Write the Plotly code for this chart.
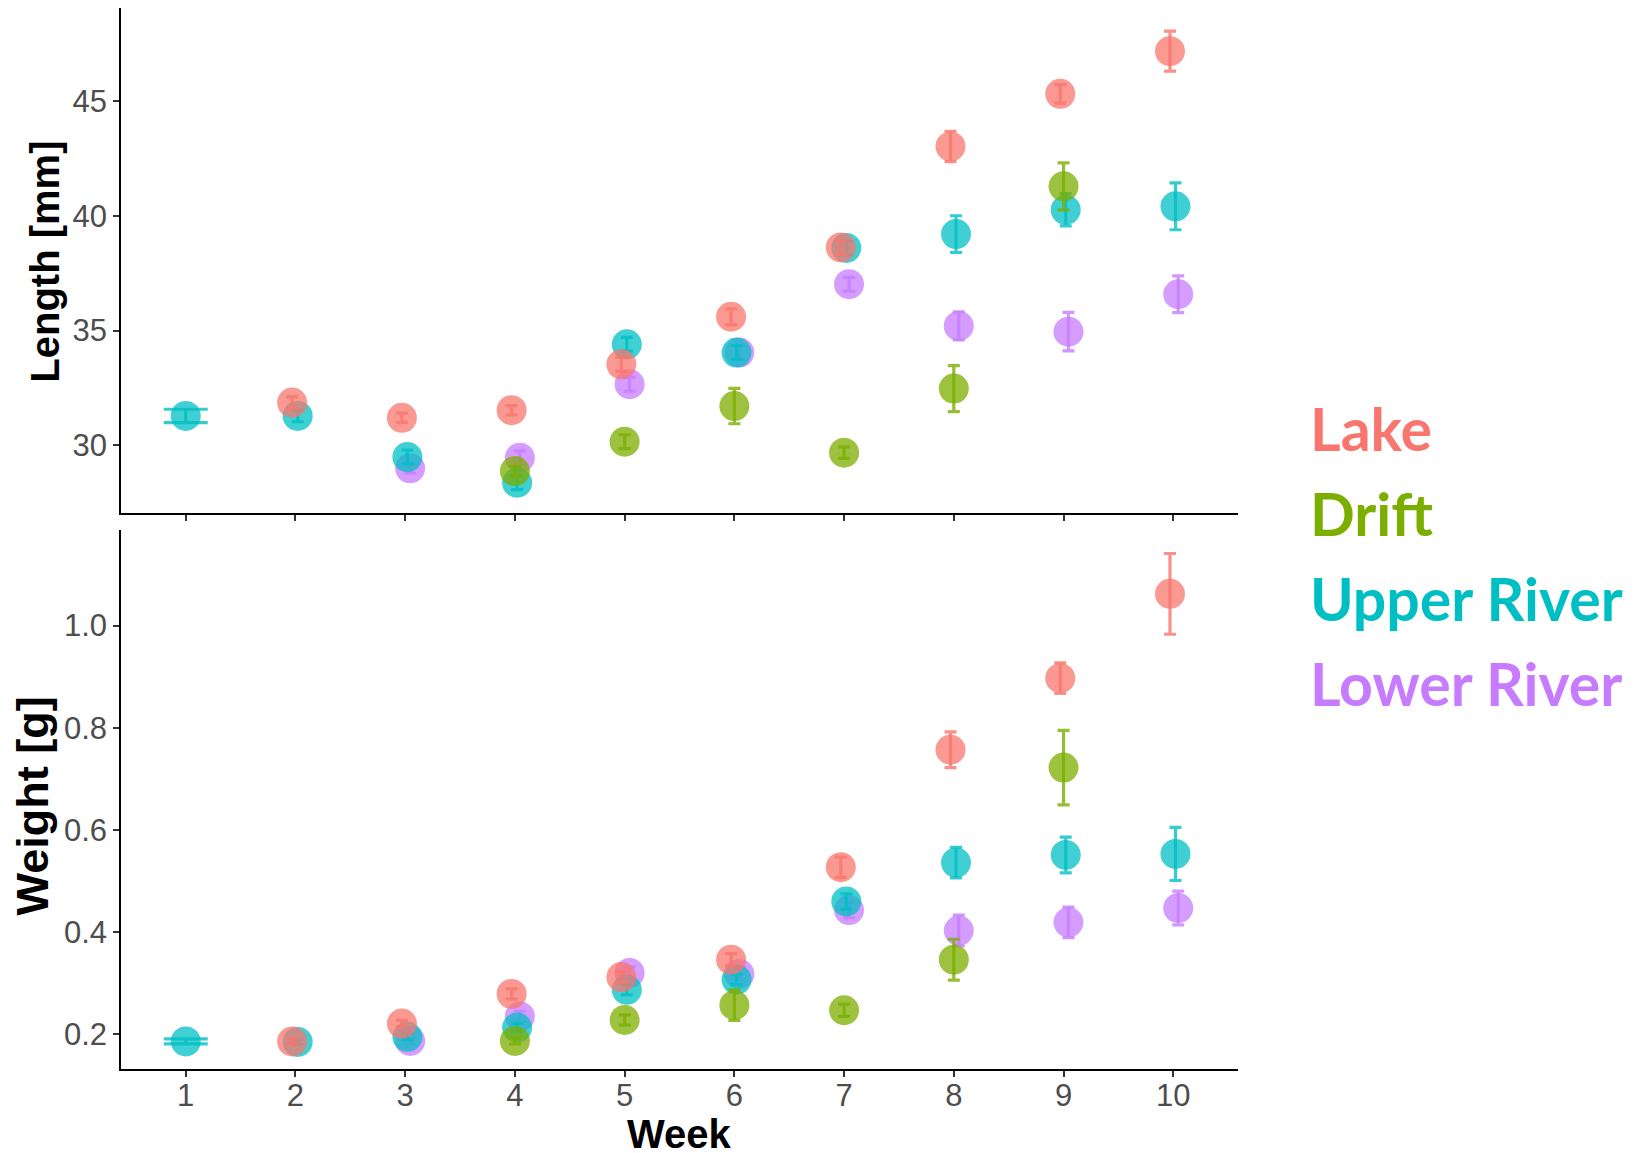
import numpy as np
import plotly.graph_objects as go

# ---------------- data ----------------
weeks = [1, 2, 3, 4, 5, 6, 7, 8, 9, 10]
groups = ["Lake", "Drift", "Upper River", "Lower River"]

length_lake = [None, 31.86, 31.20, 31.53, 33.53, 35.60, 38.62, 43.02, 45.31, 47.17]
length_lake_err = [None, 0.25, 0.20, 0.20, 0.30, 0.35, 0.30, 0.66, 0.40, 0.87]
length_drift = [None, None, None, 28.88, 30.16, 31.71, 29.68, 32.47, 41.28, None]
length_drift_err = [None, None, None, 0.20, 0.30, 0.77, 0.25, 1.00, 1.02, None]
length_upper = [31.28, 31.28, 29.49, 28.37, 34.40, 34.04, 38.60, 39.20, 40.26, 40.41]
length_upper_err = [0.29, 0.25, 0.30, 0.30, 0.30, 0.30, 0.30, 0.80, 0.70, 1.02]
length_lower = [None, None, 29.00, 29.46, 32.66, 34.04, 37.02, 35.20, 34.95, 36.58]
length_lower_err = [None, None, 0.20, 0.30, 0.30, 0.30, 0.30, 0.61, 0.84, 0.80]

weight_lake = [None, 0.186, 0.221, 0.279, 0.312, 0.346, 0.527, 0.757, 0.897, 1.062]
weight_lake_err = [None, 0.005, 0.006, 0.010, 0.010, 0.012, 0.020, 0.035, 0.030, 0.079]
weight_drift = [None, None, None, 0.187, 0.228, 0.257, 0.247, 0.346, 0.722, None]
weight_drift_err = [None, None, None, 0.006, 0.010, 0.030, 0.012, 0.040, 0.073, None]
weight_upper = [0.186, 0.185, 0.195, 0.213, 0.287, 0.307, 0.460, 0.536, 0.551, 0.553]
weight_upper_err = [0.005, 0.005, 0.006, 0.008, 0.010, 0.010, 0.015, 0.030, 0.035, 0.052]
weight_lower = [None, None, 0.187, 0.235, 0.320, 0.318, 0.443, 0.403, 0.419, 0.447]
weight_lower_err = [None, None, 0.006, 0.010, 0.012, 0.012, 0.015, 0.030, 0.030, 0.033]

# ---------------- style ----------------
colors = {"Lake": (248, 118, 109), "Drift": (124, 174, 0),
          "Upper River": (0, 191, 196), "Lower River": (199, 124, 255)}
dodge = {"Lake": -0.03, "Drift": 0.0, "Upper River": 0.02, "Lower River": 0.045}

length_data = {"Lake": (length_lake, length_lake_err), "Drift": (length_drift, length_drift_err),
               "Upper River": (length_upper, length_upper_err), "Lower River": (length_lower, length_lower_err)}
weight_data = {"Lake": (weight_lake, weight_lake_err), "Drift": (weight_drift, weight_drift_err),
               "Upper River": (weight_upper, weight_upper_err), "Lower River": (weight_lower, weight_lower_err)}

fig = go.Figure()
draw_order = ["Lower River", "Upper River", "Drift", "Lake"]


def add_group(g, vals, errs, xa, ya, table):
    r, gg, b = colors[g]
    wk = np.array(weeks, dtype=float)
    v = np.array([np.nan if a is None else a for a in vals], dtype=float)
    e = np.array([np.nan if a is None else a for a in errs], dtype=float)
    present = ~np.isnan(v)
    # a week with only one group is not dodged and gets a wide cap
    counts = {}
    for gname, (vv, _) in table.items():
        for i, a in enumerate(vv):
            if a is not None:
                counts[i] = counts.get(i, 0) + 1
    single = np.array([counts.get(i, 0) == 1 for i in range(len(weeks))])
    for mask, w, off in [(present & ~single, 6, dodge[g]), (present & single, 22, 0.0)]:
        if not mask.any():
            continue
        fig.add_trace(go.Scatter(
            x=wk[mask] + off, y=v[mask], mode="markers", xaxis=xa, yaxis=ya,
            marker=dict(size=30, color=f"rgb({r},{gg},{b})", opacity=0.75, line=dict(width=0)),
            error_y=dict(type="data", array=e[mask], visible=True, color=f"rgba({r},{gg},{b},0.8)",
                         thickness=3.2, width=w),
            showlegend=False, name=g, hoverinfo="skip"))


for g in draw_order:
    add_group(g, *length_data[g], "x2", "y2", length_data)
    add_group(g, *weight_data[g], "x", "y", weight_data)

tickfont = dict(family="Liberation Sans, Arial, sans-serif", size=31, color="#4D4D4D")


def tfont(size):
    return dict(family="Liberation Sans, Arial, sans-serif", size=size, color="black", weight="bold")


axis_common = dict(showline=True, linecolor="black", linewidth=1.5, ticks="outside", ticklen=6,
                   tickwidth=1.5, tickcolor="#333333", showgrid=False, zeroline=False,
                   tickfont=tickfont, automargin=False)

# page body adds an 8px offset; figure is sized so the plot lands where the reference has it
fig.update_layout(
    width=1627, height=1145,
    margin=dict(l=113, r=397, t=0, b=84, autoexpand=False),
    plot_bgcolor="white", paper_bgcolor="white",
    xaxis=dict(axis_common, anchor="y", domain=[0, 1], range=[0.41, 10.59],
               tickmode="array", tickvals=weeks, ticktext=[str(w) for w in weeks],
               ticklabelstandoff=-8),
    xaxis2=dict(axis_common, anchor="y2", domain=[0, 1], range=[0.41, 10.59], matches="x",
                tickmode="array", tickvals=weeks, showticklabels=False),
    yaxis=dict(axis_common, anchor="x", domain=[0, 0.508], range=[0.132, 1.187],
               tickmode="array", tickvals=[0.2, 0.4, 0.6, 0.8, 1.0],
               ticktext=["0.2", "0.4", "0.6", "0.8", "1.0"]),
    yaxis2=dict(axis_common, anchor="x2", domain=[0.524, 1], range=[27.05, 49.05],
                tickmode="array", tickvals=[30, 35, 40, 45]),
)

# axis titles
fig.add_annotation(xref="paper", yref="paper", x=0.5, y=-0.0617, xanchor="center", yanchor="middle",
                   text="Week", showarrow=False, font=tfont(40))
fig.add_annotation(xref="paper", yref="paper", x=-0.068, y=0.7609, xanchor="center", yanchor="middle",
                   text="Length [mm]", showarrow=False, textangle=-90, font=tfont(40))
fig.add_annotation(xref="paper", yref="paper", x=-0.0792, y=0.248, xanchor="center", yanchor="middle",
                   text="Weight [g]", showarrow=False, textangle=-90, font=tfont(45))

legend_y = [0.6036, 0.524, 0.4435, 0.3629]
for g, yy in zip(groups, legend_y):
    r, gg, b = colors[g]
    fig.add_annotation(xref="paper", yref="paper", x=1.0627, y=yy, xanchor="left", yanchor="middle",
                       text=g, showarrow=False,
                       font=dict(family="Lato, Open Sans, sans-serif", size=59,
                                 color=f"rgb({r},{gg},{b})", weight="bold"))

fig.write_html("out.html")
